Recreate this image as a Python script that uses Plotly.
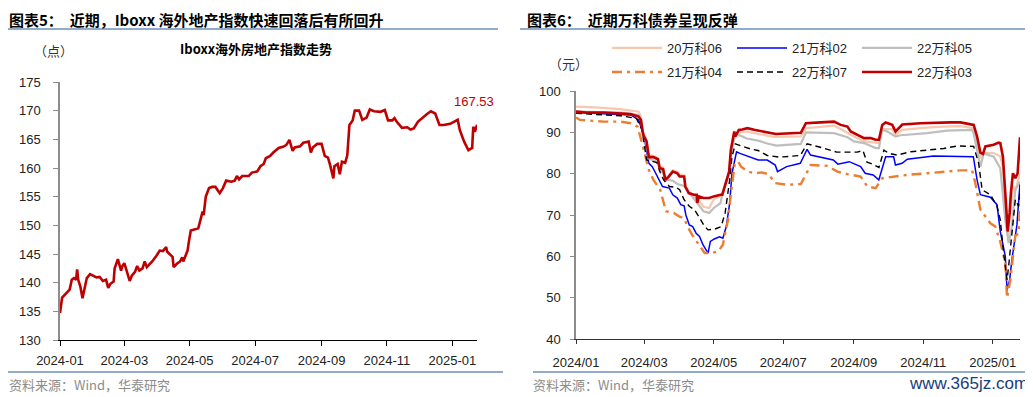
import plotly.graph_objects as go
import pandas as pd

BASE = pd.Timestamp("2024-01-01")

# ---------------- data (day offset from 2024-01-01, value) ----------------
iboxx_index = [(0,134.7),(2,137.4),(5,138.0),(8,138.5),(9,138.8),(11,140.5),(13,140.8),(15,140.5),(16,142.3),(17,140.5),
    (19,139.3),(21,137.3),(23,139.3),(25,140.8),(28,141.5),(31,141.2),(34,140.9),(37,141.0),(40,140.3),(43,140.5),
    (45,139.1),(47,139.8),(50,140.2),(51,142.5),(54,144.1),(55,143.4),(57,142.1),(58,142.8),(60,143.4),(62,142.2),
    (65,140.3),(67,141.2),(70,141.9),(72,142.9),(74,142.1),(77,142.5),(79,143.7),(81,142.7),(86,143.7),(90,144.7),
    (93,145.6),(96,145.5),(99,146.2),(100,145.4),(103,144.8),(105,144.5),(106,142.7),(109,143.3),(112,143.7),(114,144.4),
    (115,143.7),(117,144.5),(119,145.6),(120,146.9),(122,149.1),(126,149.3),(129,149.5),(131,150.9),(133,152.4),(134,151.8),
    (136,155.0),(139,156.5),(142,156.7),(145,156.7),(149,155.6),(152,156.5),(155,157.8),(160,157.6),(163,157.8),(165,158.6),
    (167,158.0),(170,158.6),(176,158.6),(179,159.2),(184,159.4),(187,160.3),(190,160.7),(192,161.7),(196,162.1),(199,162.7),
    (204,163.5),(208,163.7),(211,164.0),(214,164.9),(217,163.0),(219,163.6),(224,163.8),(227,164.4),(232,164.6),(234,162.7),
    (236,163.6),(240,164.2),(244,164.2),(247,162.1),(250,161.8),(252,160.5),(255,158.2),(256,160.3),(259,160.7),(261,158.9),
    (263,161.1),(266,160.9),(268,162.2),(270,167.5),(273,168.3),(275,170.0),(279,170.0),(282,168.4),(286,168.8),(289,170.2),
    (293,169.9),(299,169.8),(303,170.1),(306,168.3),(310,168.3),(312,168.7),(314,168.1),(319,167.0),(324,167.1),(327,166.7),
    (330,166.9),(334,168.1),(338,168.8),(343,169.5),(346,169.9),(350,169.5),(354,167.5),(358,167.5),(364,167.7),(371,168.4),
    (373,166.6),(377,164.6),(381,163.1),(384.5,163.5),(385.5,167.2),(387,166.3),(389,167.53)]
iboxx_last_label = "167.53"

bond_names = ["20万科06", "21万科02", "22万科05", "21万科04", "22万科07", "22万科03"]

vanke_20_06 = [(0,96.2),(20,96.0),(39,95.6),(55,95.0),(57,93.8),(59,90.0),(62,88.3),(64,84.5),(68,84.3),(72,83.8),
    (73.5,81.8),(76.5,81.5),(78.5,79.0),(81.5,79.6),(85,80.8),(89,80.5),(91,79.8),(95,79.6),(96,77.3),(99,75.5),
    (103.5,74.6),(108,73.5),(112,72.0),(117,71.7),(119,72.8),(121,73.8),(127,74.5),(128.5,74.8),(131.5,77.5),(134.5,80.0),
    (136,85.0),(139,89.5),(143,90.0),(150.5,90.2),(156.5,89.8),(165,89.4),(174,88.9),(197.5,89.0),(201.9,91.0),(215,91.3),
    (226.7,91.6),(232.5,90.8),(241.3,89.4),(253,87.8),(263.2,87.4),(266.1,87.4),(269,90.8),(277.8,90.8),(280.7,89.4),(286.6,90.6),
    (302.6,91.0),(317.2,91.3),(337.7,91.5),(349.3,91.0),(352.3,87.8),(355.2,84.0),(359.6,85.0),(366.9,85.0),(372.7,84.2),(375,81.5),
    (378,70.0),(379.1,65.0),(380.9,69.0),(383.8,77.0),(385.9,76.0),(390,80.0)]

vanke_21_02 = [(0,94.8),(39,94.4),(48,94.2),(55,93.0),(59.5,89.4),(64,82.5),(67,81.7),(70,80.1),(73,78.5),(76,76.9),
    (82,76.5),(85,74.9),(89,74.1),(92,72.5),(95,72.2),(96.5,70.0),(99.5,67.6),(102.5,67.2),(105.5,65.6),(108.5,64.8),
    (111.5,62.8),(116,60.8),(118,63.6),(121.5,64.2),(126,64.7),(129,64.4),(132,67.2),(135,72.9),(137,80.1),(139.5,84.0),
    (141,85.3),(144,84.9),(153,84.1),(160,83.3),(168,83.3),(175,82.1),(177,80.5),(185,81.7),(197,82.5),(203,85.9),
    (206,84.5),(226,83.3),(230,82.3),(240,82.9),(250,81.7),(254,80.1),(261,79.7),(266,78.5),(269,81.3),(272,84.1),
    (279,84.1),(280.6,82.1),(286.4,82.5),(291,83.5),(314,84.3),(349,84.1),(352.3,78.5),(355.2,74.9),(364,74.3),(369.8,72.5),
    (372.7,66.0),(377.1,60.0),(378.6,51.8),(380.9,54.3),(382.9,59.2),(385.3,64.0),(387.3,67.6),(390,77.7)]

vanke_22_05 = [(0,95.0),(39,94.8),(55,94.2),(57,93.2),(59,89.6),(62,87.0),(64,83.6),(68,83.2),(72,82.8),(73.5,80.8),
    (76.5,80.5),(78.5,78.3),(81.5,78.5),(85,78.3),(89,77.5),(95,77.0),(99,75.5),(103.5,74.0),(112,70.9),(117,70.5),
    (121,71.7),(127,72.9),(129,75.7),(134.5,80.0),(136,84.8),(139,88.5),(141,89.6),(150,88.5),(160,88.0),(168,87.3),
    (176,86.8),(197.5,87.2),(201.9,90.0),(226.7,89.8),(238.4,88.8),(244.2,87.8),(253,87.4),(263.2,86.2),(266.1,86.2),(269,90.6),
    (273.4,90.2),(280.7,89.0),(285.1,89.3),(308.5,89.8),(326,90.4),(347.9,90.6),(349.3,89.8),(355.2,81.7),(358.1,84.9),(366.9,84.1),
    (372.7,81.3),(377.1,68.8),(380,63.2),(382.9,67.2),(385.9,76.1),(390,78.1)]

vanke_21_04 = [(0,93.6),(3.5,93.0),(24,92.6),(39,92.6),(48,92.2),(54,91.4),(58,87.4),(62,83.3),(64,80.9),(68,78.5),
    (74,76.1),(79,70.9),(86,70.5),(91,69.6),(95,69.2),(98,67.2),(102,65.2),(107,63.2),(113,60.8),(119,60.8),
    (125,61.2),(129,62.8),(133.5,68.8),(136.5,76.1),(139.5,82.5),(142.5,82.9),(145,81.7),(151,80.5),(157,80.1),(163,80.3),
    (169,79.9),(175,77.7),(186,77.3),(197.5,77.5),(201.9,79.7),(206.2,82.1),(220.8,81.9),(229.6,80.5),(238.4,79.9),(250,79.3),
    (255.9,76.9),(263.2,76.5),(269,78.9),(279.3,79.3),(290.9,79.7),(308.5,80.1),(326,80.5),(337.7,80.8),(347.9,80.8),(350.8,77.7),
    (355.2,71.3),(364,68.0),(368.3,67.2),(372.7,63.5),(377.1,58.4),(378.6,49.9),(381.5,54.3),(383.8,60.8),(385.9,65.0),(388.8,65.5),
    (390,71.5)]

vanke_22_07 = [(0,94.6),(39,94.0),(53,93.4),(58,90.6),(62,83.3),(68,82.9),(71,82.7),(74,80.3),(77,78.5),(82,76.9),
    (88,76.7),(91,76.1),(95,73.7),(99.5,72.1),(104,71.3),(107,70.0),(113,67.2),(116,66.4),(122,66.6),(127.5,67.2),
    (131,70.5),(135,78.5),(137,84.1),(140,87.2),(144,86.8),(153,86.0),(160,85.6),(168,84.4),(179,84.0),(197,84.4),
    (203,87.2),(214.6,86.4),(229,85.2),(247,85.2),(252,85.6),(255.6,82.8),(258.8,82.5),(266.1,81.5),(270.5,85.7),(274.9,84.9),
    (282,84.5),(294,85.3),(323,86.1),(335,86.7),(349.3,86.6),(353.7,82.5),(356.7,76.1),(364,74.9),(369.8,72.1),(372.7,68.8),
    (375.6,60.8),(378.6,54.3),(380,57.6),(382.9,64.8),(385.9,73.7),(388.8,72.1),(390,76.0)]

vanke_22_03 = [(0,95.0),(9,94.8),(24,94.8),(39,94.6),(48,94.4),(55,93.8),(57,93.0),(59,89.4),(62,87.8),(64,84.0),
    (68,84.0),(72,83.5),(73.5,81.3),(76.5,81.1),(78.5,78.5),(81.5,79.3),(85,80.5),(89,80.1),(91,79.3),(95,79.3),
    (96,76.9),(99,75.3),(103.5,74.9),(106,74.9),(106.5,72.9),(108,74.5),(112,74.1),(117,74.1),(121,74.5),(127,74.9),
    (128.5,74.9),(131.5,77.7),(134.5,80.5),(136,85.7),(139,90.2),(140,89.0),(143,90.6),(146,90.7),(150.5,91.0),(156.5,90.6),
    (165,90.2),(174,89.8),(175.6,89.6),(197.5,89.9),(201.9,92.2),(215,92.4),(226.7,92.6),(232.5,91.8),(238.4,91.4),(241.3,90.2),
    (247.1,89.4),(253,88.6),(258.8,88.6),(263.2,88.2),(266.1,88.2),(269,91.8),(272,92.4),(277.8,91.8),(280.7,90.2),(285.1,91.4),
    (286.6,91.9),(302.6,92.2),(317.2,92.4),(328.9,92.4),(337.7,92.4),(345,92.0),(349.3,91.8),(352.3,89.0),(355.2,85.1),(357.5,84.8),
    (359.6,86.6),(366.9,87.0),(371.3,87.5),(372.7,87.4),(375,84.1),(378,71.3),(379.1,66.0),(380.9,70.5),(382,75.3),(383.8,80.1),
    (385.9,78.9),(387.9,80.1),(390,88.8)]

left_yticks = [130, 135, 140, 145, 150, 155, 160, 165, 170, 175]
right_yticks = [40, 50, 60, 70, 80, 90, 100]


def to_xy(pairs):
    d = [p[0] for p in pairs]
    v = [p[1] for p in pairs]
    x = [BASE + pd.to_timedelta(k, unit="D") for k in d]
    return x, v


# page is rendered with the default 8px body margin: figure sits at (8, 8)
OFF = 8
FW, FH = 1033 - OFF, 397 - OFF


def fx(p):  # page pixel x -> paper fraction
    return (p - OFF) / FW


def fy(p):  # page pixel y -> paper fraction
    return 1 - (p - OFF) / FH


FONT = "Liberation Sans, Arial, Noto Sans CJK SC, sans-serif"
CJK = "Noto Sans CJK SC, Liberation Sans, sans-serif"

fig = go.Figure()

x, y = to_xy(iboxx_index)
fig.add_trace(go.Scatter(x=x, y=y, mode="lines", line=dict(color="#C00000", width=2.6),
                         showlegend=False, xaxis="x", yaxis="y", hoverinfo="skip"))
fig.add_annotation(x=x[-1], y=y[-1], xref="x", yref="y", text=iboxx_last_label, showarrow=False,
                   xanchor="center", yanchor="middle", xshift=-3, yshift=23,
                   font=dict(color="#C00000", size=13, family=FONT))

styles = {
    "20万科06": dict(color="#F8C7AE", width=2.2),
    "21万科02": dict(color="#0000FF", width=1.5),
    "22万科05": dict(color="#BEBEBE", width=2.2),
    "21万科04": dict(color="#ED7D31", width=2.4, dash="10px,5px,3px,5px"),
    "22万科07": dict(color="#000000", width=1.4, dash="6px,4px"),
    "22万科03": dict(color="#C00000", width=2.6),
}
series = {
    "20万科06": vanke_20_06, "21万科02": vanke_21_02, "22万科05": vanke_22_05,
    "21万科04": vanke_21_04, "22万科07": vanke_22_07, "22万科03": vanke_22_03,
}
for i, name in enumerate(bond_names):
    x, y = to_xy(series[name])
    fig.add_trace(go.Scatter(x=x, y=y, mode="lines", name=name, line=styles[name],
                             xaxis="x2", yaxis="y2", hoverinfo="skip",
                             legend="legend" if i < 3 else "legend2"))

axis_common = dict(showgrid=False, zeroline=False, ticks="outside", tickangle=0,
                   tickfont=dict(size=13, color="#222222", family=FONT))

legend_common = dict(orientation="h", xanchor="left", yanchor="middle", entrywidth=60,
                     entrywidthmode="pixels", itemwidth=50, bgcolor="rgba(0,0,0,0)",
                     font=dict(size=13, color="#222222", family=FONT), traceorder="normal")

fig.update_layout(
    width=FW, height=FH, autosize=False,
    margin=dict(l=0, r=0, t=0, b=0, autoexpand=False),
    paper_bgcolor="white", plot_bgcolor="white",
    xaxis=dict(domain=[fx(60), fx(477)], anchor="y", type="date",
               range=[BASE, BASE + pd.Timedelta(days=389)],
               tick0="2024-01-01", dtick="M2", tickformat="%Y-%m", ticklen=5, ticklabelstandoff=3,
               showline=True, linecolor="#000000", linewidth=1, tickcolor="#000000", **axis_common),
    yaxis=dict(domain=[fy(340), fy(82)], anchor="x", range=[130, 175], ticklen=5, ticklabelstandoff=10,
               tickvals=left_yticks, showline=True, linecolor="#8C8C8C", linewidth=1.5,
               tickcolor="#8C8C8C", **axis_common),
    xaxis2=dict(domain=[fx(576), fx(1020)], anchor="y2", type="date",
                range=[BASE, BASE + pd.Timedelta(days=390)],
                tick0="2024-01-01", dtick="M2", tickformat="%Y/%m", ticklen=4, ticklabelstandoff=7,
                showline=True, linecolor="#333333", linewidth=1, tickcolor="#333333", **axis_common),
    yaxis2=dict(domain=[fy(339), fy(91)], anchor="x2", range=[40, 100], ticklen=4, ticklabelstandoff=7,
                tickvals=right_yticks, showline=True, linecolor="#8C8C8C", linewidth=1.5,
                tickcolor="#8C8C8C", **axis_common),
    legend=dict(x=fx(607), y=fy(48), **legend_common),
    legend2=dict(x=fx(607), y=fy(72), **legend_common),
)

rule_color = "#6F8FB8"
for x0, x1, yy in [(8, 498, 29), (520, 1033, 29), (8, 503, 372), (533, 1033, 372)]:
    fig.add_shape(type="line", xref="paper", yref="paper", x0=fx(x0), x1=fx(x1),
                  y0=fy(yy), y1=fy(yy), line=dict(color=rule_color, width=1.5))


def ann(text, xp, yp, size, color="#000000", anchor="left", bold=False, family=CJK, vanchor="middle"):
    t = "<b>" + text + "</b>" if bold else text
    fig.add_annotation(text=t, xref="paper", yref="paper", x=fx(xp), y=fy(yp),
                       xanchor=anchor, yanchor=vanchor, showarrow=False, borderpad=0,
                       font=dict(size=size, color=color, family=family))


ann("图表5：  近期，Iboxx 海外地产指数快速回落后有所回升", 8, 8, 15, bold=True, vanchor="top")
ann("图表6：  近期万科债券呈现反弹", 526, 8, 15, bold=True, vanchor="top")
ann("Iboxx海外房地产指数走势", 256, 48, 13, anchor="center", bold=True)
ann("（点）", 53, 51, 13, color="#333333", anchor="center")
ann("（元）", 568, 64, 13, color="#333333", anchor="center")
ann("资料来源：Wind，华泰研究", 8, 384, 13, color="#8C8C8C")
ann("资料来源：Wind，华泰研究", 532, 384, 13, color="#8C8C8C")
ann("www.365jz.com", 1029, 383, 17, color="#1B3C7A", anchor="right", family=FONT)

fig.write_html("out.html")
